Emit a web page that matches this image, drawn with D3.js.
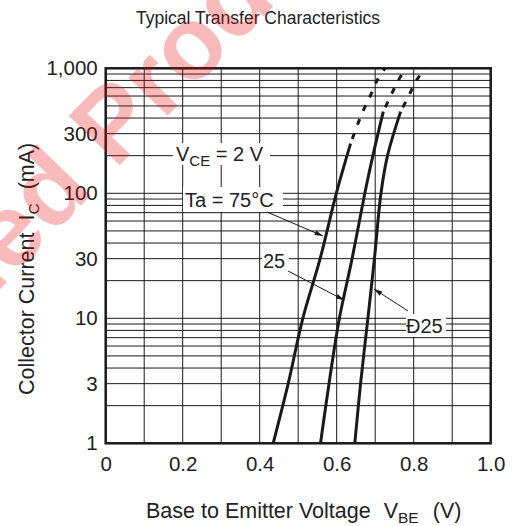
<!DOCTYPE html>
<html>
<head>
<meta charset="utf-8">
<script src="https://cdn.jsdelivr.net/npm/d3@7"></script>
<style>
  body { margin: 0; background: #fff; }
  text { font-family: "Liberation Sans", Arial, Helvetica, sans-serif; fill: #222; }
</style>
</head>
<body>
<svg id="chart" width="513" height="526"></svg>
<script>

// axis ticks
var xTicks = [0, 0.2, 0.4, 0.6, 0.8, 1.0];
var yTicks = [1, 3, 10, 30, 100, 300, 1000];

// Ta = 75 C
var vbe75 = [0.435, 0.474, 0.512, 0.557, 0.599, 0.636, 0.665, 0.687, 0.705, 0.725];
var ic75  = [1, 3, 10, 30, 100, 250, 430, 600, 800, 1000];
// Ta = 25 C
var vbe25 = [0.558, 0.580, 0.607, 0.640, 0.673, 0.694, 0.721, 0.740, 0.760, 0.780];
var ic25  = [1, 3, 10, 30, 100, 200, 450, 600, 800, 1000];
// Ta = -25 C
var vbeM25 = [0.647, 0.662, 0.681, 0.698, 0.715, 0.732, 0.766, 0.787, 0.807, 0.830];
var icM25  = [1, 3, 10, 30, 100, 200, 450, 600, 800, 1000];
// curves are dashed above these currents
var dashFrom = [250, 450, 450];

var svg = d3.select("#chart");

var pl = 105.7, pr = 490.7, pt = 68.3, pb = 443.3;

var x = d3.scaleLinear().domain([0, 1]).range([pl, pr]);
var y = d3.scaleLog().domain([1, 1000]).range([pb, pt]);

// title
svg.append("text")
    .attr("x", 258).attr("y", 24)
    .attr("text-anchor", "middle")
    .attr("font-size", 17.5)
    .text("Typical Transfer Characteristics");

// grid
var grid = svg.append("g").attr("stroke", "#1a1a1a").attr("stroke-width", 1);

grid.selectAll(".vg")
    .data(d3.range(1, 10).map(function(i){ return i / 10; }))
    .enter().append("line")
    .attr("x1", function(d){ return x(d); }).attr("x2", function(d){ return x(d); })
    .attr("y1", pt).attr("y2", pb);

grid.selectAll(".hg")
    .data(y.ticks())
    .enter().append("line")
    .attr("x1", pl).attr("x2", pr)
    .attr("y1", function(d){ return y(d); }).attr("y2", function(d){ return y(d); });

// frame
svg.append("rect")
    .attr("x", pl).attr("y", pt)
    .attr("width", pr - pl).attr("height", pb - pt)
    .attr("fill", "none").attr("stroke", "#1a1a1a").attr("stroke-width", 2.5);

// axes
var yAxis = d3.axisLeft(y).tickValues(yTicks).tickSize(0).tickPadding(8)
    .tickFormat(d3.format(","));
var xAxis = d3.axisBottom(x).tickValues(xTicks).tickSize(0).tickPadding(13)
    .tickFormat(function(d){ return d === 0 ? "0" : d3.format(".1f")(d); });

var gy = svg.append("g").attr("transform", "translate(" + pl + ",0)").call(yAxis);
var gx = svg.append("g").attr("transform", "translate(0," + pb + ")").call(xAxis);
[gy, gx].forEach(function(g){
    g.select(".domain").remove();
    g.selectAll("text").attr("font-size", 20.5).attr("font-family", null).attr("fill", "#222");
});

// axis titles
var xt = svg.append("text")
    .attr("x", 146).attr("y", 518)
    .attr("font-size", 21.5);
xt.append("tspan").text("Base to Emitter Voltage");
xt.append("tspan").attr("dx", 13).text("V");
xt.append("tspan").attr("font-size", 15.5).attr("dy", 5).text("BE");
xt.append("tspan").attr("dy", -5).attr("dx", 14).text("(V)");

var yt = svg.append("text")
    .attr("transform", "translate(34,395) rotate(-90)")
    .attr("font-size", 21.5);
yt.append("tspan").text("Collector Current");
yt.append("tspan").attr("dx", 12).text("I");
yt.append("tspan").attr("font-size", 15.5).attr("dy", 5).text("C");
yt.append("tspan").attr("dy", -5).attr("dx", 14).text("(mA)");

// label boxes (white backgrounds hide grid)
function box(x0, y0, x1, y1) {
    svg.append("rect").attr("x", x0).attr("y", y0)
        .attr("width", x1 - x0).attr("height", y1 - y0).attr("fill", "#fff");
}
box(173, 143, 270, 165);
box(183, 187, 283, 212);
box(262, 250, 289, 272);
box(406, 314, 446, 337);

var vce = svg.append("text").attr("x", 176).attr("y", 161).attr("font-size", 20);
vce.append("tspan").text("V");
vce.append("tspan").attr("font-size", 15).attr("dy", 5).text("CE");
vce.append("tspan").attr("dy", -5).text(" = 2 V");

svg.append("text").attr("x", 185).attr("y", 207).attr("font-size", 20).text("Ta = 75\u00b0C");
svg.append("text").attr("x", 263).attr("y", 268).attr("font-size", 20).text("25");
svg.append("text").attr("x", 406).attr("y", 333).attr("font-size", 20).text("\u00d025");

// curves
var line = d3.line()
    .x(function(d){ return x(d[0]); })
    .y(function(d){ return y(d[1]); })
    .curve(d3.curveCatmullRom.alpha(0.5));

var series = [[vbe75, ic75], [vbe25, ic25], [vbeM25, icM25]];
series.forEach(function(s, i){
    var pts = s[0].map(function(v, j){ return [v, s[1][j]]; });
    var solid = pts.filter(function(p){ return p[1] <= dashFrom[i]; });
    var dashed = pts.filter(function(p){ return p[1] >= dashFrom[i]; });
    svg.append("path").attr("d", line(solid))
        .attr("fill", "none").attr("stroke", "#1a1a1a").attr("stroke-width", 3);
    svg.append("path").attr("d", line(dashed))
        .attr("fill", "none").attr("stroke", "#1a1a1a").attr("stroke-width", 3)
        .attr("stroke-dasharray", "6,9").attr("stroke-dashoffset", -5);
});

// arrows
svg.append("defs").append("marker")
    .attr("id", "ah").attr("viewBox", "0 0 10 6")
    .attr("refX", 10).attr("refY", 3)
    .attr("markerWidth", 11).attr("markerHeight", 5)
    .attr("markerUnits", "userSpaceOnUse")
    .attr("orient", "auto")
    .append("path").attr("d", "M0,0L10,3L0,6Z").attr("fill", "#1a1a1a");

var arrows = [
    [267, 212, 323, 236],
    [288, 271, 344, 300],
    [408, 311, 374, 289]
];
svg.selectAll(".arrow")
    .data(arrows)
    .enter().append("line")
    .attr("x1", function(d){ return d[0]; }).attr("y1", function(d){ return d[1]; })
    .attr("x2", function(d){ return d[2]; }).attr("y2", function(d){ return d[3]; })
    .attr("stroke", "#1a1a1a").attr("stroke-width", 1)
    .attr("marker-end", "url(#ah)");

// watermark
svg.append("text")
    .attr("transform", "translate(-358,660) rotate(-46)")
    .attr("font-size", 103).attr("font-weight", "bold")
    .style("fill", "rgb(232,10,10)").attr("opacity", 0.28)
    .text("Discontinued Product");

</script>
</body>
</html>
